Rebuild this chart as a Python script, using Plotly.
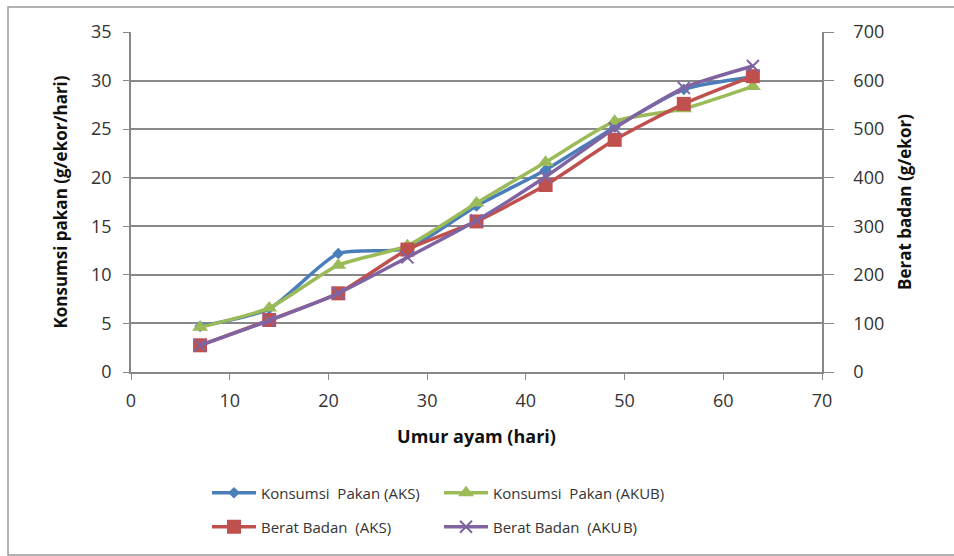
import plotly.graph_objects as go

days = [7, 14, 21, 28, 35, 42, 49, 56, 63]
pakan_aks = [4.7, 6.5, 12.2, 12.7, 17.1, 20.8, 25.2, 29.1, 30.4]
pakan_akub = [4.6, 6.6, 11.0, 13.0, 17.4, 21.6, 25.8, 27.1, 29.4]
berat_aks = [55, 107, 162, 252, 310, 385, 478, 552, 609]
berat_akub = [55, 106, 162, 236, 312, 402, 502, 585, 630]

names = ["Konsumsi\u00a0 Pakan (AKS)", "Konsumsi\u00a0 Pakan (AKUB)",
         "Berat Badan\u00a0 (AKS)", "Berat Badan\u00a0 (AKU\u200aB)"]

BLUE = "#4A7EBB"
GREEN = "#9BBB59"
RED = "#C0504D"
PURPLE = "#8064A2"
FONT = "Open Sans"

fig = go.Figure()
fig.add_trace(go.Scatter(x=days, y=pakan_aks, name=names[0], mode="lines+markers",
                         line=dict(color=BLUE, width=3.5, shape="spline", smoothing=0.6),
                         marker=dict(symbol="diamond", size=9, color=BLUE),
                         legend="legend"))
fig.add_trace(go.Scatter(x=days, y=pakan_akub, name=names[1], mode="lines+markers",
                         line=dict(color=GREEN, width=3.5, shape="spline", smoothing=0.6),
                         marker=dict(symbol="triangle-up", size=14, color=GREEN),
                         legend="legend2"))
fig.add_trace(go.Scatter(x=days, y=berat_aks, name=names[2], mode="lines+markers", yaxis="y2",
                         line=dict(color=RED, width=3.5, shape="spline", smoothing=0.6),
                         marker=dict(symbol="square", size=14, color=RED),
                         legend="legend3"))
fig.add_trace(go.Scatter(x=days, y=berat_akub, name=names[3], mode="lines+markers", yaxis="y2",
                         line=dict(color=PURPLE, width=3.5, shape="spline", smoothing=0.6),
                         marker=dict(symbol="x-thin", size=12, color=PURPLE,
                                     line=dict(width=2, color=PURPLE)),
                         legend="legend4"))

axis_color = "#888888"
W, H = 954, 556
L, R, T, B = 131, 132, 32, 184
pw, ph = W - L - R, H - T - B

def px_x(px):
    return (px - L) / pw

def px_y(py):
    return (H - B - py) / ph

def leg(xp, yp):
    return dict(orientation="h", x=px_x(xp), y=px_y(yp), xanchor="left", yanchor="middle",
                itemwidth=44, font=dict(size=15, color="#333333"),
                bgcolor="rgba(0,0,0,0)")

fig.update_layout(
    width=W, height=H,
    margin=dict(l=L, r=R, t=T, b=B, autoexpand=False),
    paper_bgcolor="white", plot_bgcolor="white",
    font=dict(family=FONT, color="#222222"),
    xaxis=dict(range=[0, 70], dtick=10, tick0=0, showgrid=False, automargin=False,
               showline=True, linecolor=axis_color, linewidth=1.5,
               ticks="outside", ticklen=6, tickcolor=axis_color,
               tickfont=dict(size=18, color="#333333"), ticklabelstandoff=6,
               title=dict(text="<b>Umur ayam (hari)</b>", font=dict(size=18, color="#111111"),
                          standoff=19),
               zeroline=False),
    yaxis=dict(range=[0, 35], dtick=5, showgrid=True, gridcolor=axis_color, gridwidth=1.5,
               automargin=False,
               showline=True, linecolor=axis_color, linewidth=1.5,
               ticks="outside", ticklen=6, tickcolor=axis_color,
               tickfont=dict(size=18, color="#333333"), ticklabelstandoff=8,
               title=dict(text="<b>Konsumsi pakan (g/ekor/hari)</b>",
                          font=dict(size=17, color="#111111"), standoff=19),
               zeroline=False),
    yaxis2=dict(range=[0, 700], dtick=100, overlaying="y", side="right", showgrid=False,
                automargin=False,
                showline=True, linecolor=axis_color, linewidth=1.5,
                ticks="outside", ticklen=10, tickcolor=axis_color,
                tickfont=dict(size=18, color="#333333"), ticklabelstandoff=16,
                title=dict(text="<b>Berat badan (g/ekor)</b>",
                           font=dict(size=17, color="#111111"), standoff=16),
                zeroline=False),
    legend=leg(207, 493),
    legend2=leg(439, 493),
    legend3=leg(207, 527),
    legend4=leg(439, 527),
    showlegend=True,
    shapes=[dict(type="rect", xref="paper", yref="paper",
                 x0=px_x(8), x1=px_x(1400), y0=px_y(555), y1=px_y(7),
                 line=dict(color="#999999", width=1.5), fillcolor="rgba(0,0,0,0)",
                 layer="below")],
)

fig.write_html("out.html",
               post_script="document.body.style.margin='0';document.body.style.overflow='hidden';",
               config={"displayModeBar": False})
